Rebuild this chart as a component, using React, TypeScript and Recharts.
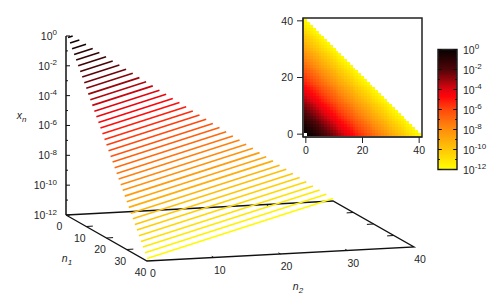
import React from "react";
import { ScatterChart, Scatter, XAxis, YAxis, ReferenceArea, ReferenceLine } from "recharts";

// log10 of x_n read for n1 + n2 = 1 .. 40
const logValues = [
  -0.02, -0.32, -0.62, -0.93, -1.23, -1.53, -1.84, -2.14, -2.44, -2.74,
  -3.05, -3.35, -3.65, -3.96, -4.26, -4.56, -4.86, -5.17, -5.47, -5.77,
  -6.07, -6.38, -6.68, -6.98, -7.29, -7.59, -7.89, -8.19, -8.5, -8.8,
  -9.1, -9.41, -9.71, -10.01, -10.31, -10.62, -10.92, -11.22, -11.53, -11.83,
];
const zMajorTicks = [0, -2, -4, -6, -8, -10, -12];
const zMinorTicks = [-1, -3, -5, -7, -9, -11];
const nTicks = [0, 10, 20, 30, 40];
const insetTicks = [0, 20, 40];
const colorStops: [number, number[]][] = [
  [0, [6, 1, 1]],
  [-2, [80, 5, 8]],
  [-3, [150, 5, 12]],
  [-4, [225, 5, 15]],
  [-4.7, [255, 5, 10]],
  [-6, [255, 72, 12]],
  [-8, [255, 142, 12]],
  [-10, [255, 198, 6]],
  [-12, [255, 255, 0]],
];

const FONT = "'Liberation Sans', Arial, sans-serif";
const INK = "#262626";

function colorOf(z: number) {
  for (let i = 1; i < colorStops.length; i++) {
    const [z0, c0] = colorStops[i - 1];
    const [z1, c1] = colorStops[i];
    if (z >= z1) {
      const t = (z0 - z) / (z0 - z1);
      const c = c0.map((v, j) => Math.round(v + (c1[j] - v) * t));
      return `rgb(${c[0]},${c[1]},${c[2]})`;
    }
  }
  return "rgb(255,255,0)";
}

// 3D view of (n1, n2, log x) on to the page
function project(n1: number, n2: number, z: number) {
  return {
    x: 66 + n1 * 2.025 + n2 * 6.675,
    y: 215 + n1 * 1.15 - n2 * 0.35 - (z + 12) * 14.92,
  };
}
const FLOOR = -12;

const stripes = logValues.map((z, i) => {
  const k = i + 1;
  return { color: colorOf(z), points: [project(k, 0, z), project(0, k, z)] };
});
const floorEdge = [project(0, 0, FLOOR), project(0, 40, FLOOR), project(40, 40, FLOOR), project(40, 0, FLOOR), project(0, 0, FLOOR)];
const zAxisLine = [project(0, 0, FLOOR), project(0, 0, 0)];

const tickSegments: { x: number; y: number }[][] = [];
const addTick = (a: { x: number; y: number }, dx: number, dy: number) =>
  tickSegments.push([a, { x: a.x + dx, y: a.y + dy }]);
zMajorTicks.forEach((z) => addTick(project(0, 0, z), 4, 0));
zMinorTicks.forEach((z) => addTick(project(0, 0, z), 2, 0));
[10, 20, 30].forEach((n) => {
  addTick(project(n, 0, FLOOR), 6.6, -0.4);
  addTick(project(n, 40, FLOOR), -6.6, 0.4);
  addTick(project(40, n, FLOOR), -2, -1.2);
  addTick(project(0, n, FLOOR), 2, 1.2);
});

type Lbl = { x: number; y: number; text: string; sup?: string; sub?: string; anchor?: string; italic?: boolean };
const labels: Lbl[] = [
  ...zMajorTicks.map((z) => {
    const p = project(0, 0, z);
    return { x: 57, y: p.y, text: "10", sup: String(z), anchor: "end" };
  }),
  ...nTicks.map((n) => {
    const p = project(n, 0, FLOOR);
    return { x: p.x - 6.5, y: p.y + 11, text: String(n), anchor: "middle" };
  }),
  ...nTicks.map((n) => {
    const p = project(40, n, FLOOR);
    return { x: p.x + 6, y: p.y + 12, text: String(n), anchor: "middle" };
  }),
  { x: 67, y: 258, text: "n", sub: "1", anchor: "middle", italic: true },
  { x: 298, y: 285.5, text: "n", sub: "2", anchor: "middle", italic: true },
  { x: 21.5, y: 115, text: "x", sub: "n", anchor: "middle", italic: true },
];

const cells: { n1: number; n2: number; z: number }[] = [];
logValues.forEach((z, i) => {
  const k = i + 1;
  for (let n1 = 0; n1 <= k; n1++) cells.push({ n1, n2: k - n1, z });
});

const Sup = ({ x, y, text, sup, anchor }: any) => (
  <text x={x} y={y + 4} textAnchor={anchor} fontFamily={FONT} fontSize={10.5} fill={INK}>
    <tspan>{text}</tspan>
    <tspan dy={-4.5} fontSize={8}>{sup}</tspan>
  </text>
);

const LabelShape = (props: any) => {
  const { cx, cy, payload: p } = props;
  if (p.sup) return <Sup x={cx} y={cy} text={p.text} sup={p.sup} anchor={p.anchor} />;
  return (
    <text x={cx} y={cy + 4} textAnchor={p.anchor} fontFamily={FONT} fontSize={10.5} fill={INK} fontStyle={p.italic ? "italic" : "normal"}>
      <tspan>{p.text}</tspan>
      {p.sub ? <tspan dy={3} fontSize={8}>{p.sub}</tspan> : null}
    </text>
  );
};
const NoPoint = () => <g />;
const CellShape = (props: any) => {
  const { cx, cy, payload } = props;
  return <rect x={cx - 1.45} y={cy - 1.45} width={2.9} height={2.9} fill={colorOf(payload.z)} shapeRendering="crispEdges" />;
};
const BarTick = (props: any) => (
  <Sup x={props.x} y={props.y} text="10" sup={String(props.payload.value)} anchor="start" />
);

const axisText = { fontFamily: FONT, fontSize: 10.5, fill: INK };
const box = (left: number, top: number): React.CSSProperties => ({ position: "absolute", left, top });

export default function App() {
  return (
    <div style={{ position: "absolute", left: 0, top: 0, width: 499, height: 294, overflow: "hidden", background: "#fff" }}>
      <div style={box(0, 0)}>
        <ScatterChart width={499} height={294} margin={{ top: 0, right: 0, bottom: 0, left: 0 }}>
          <XAxis type="number" dataKey="x" domain={[0, 499]} hide allowDataOverflow />
          <YAxis type="number" dataKey="y" domain={[0, 294]} reversed hide allowDataOverflow />
          <Scatter data={floorEdge} line={{ stroke: "#111", strokeWidth: 1.3 }} shape={NoPoint} isAnimationActive={false} />
          <Scatter data={zAxisLine} line={{ stroke: "#111", strokeWidth: 1.5 }} shape={NoPoint} isAnimationActive={false} />
          {tickSegments.map((seg, i) => (
            <Scatter key={"t" + i} data={seg} line={{ stroke: "#111", strokeWidth: 1 }} shape={NoPoint} isAnimationActive={false} />
          ))}
          {stripes.map((s, i) => (
            <Scatter key={"s" + i} data={s.points} line={{ stroke: s.color, strokeWidth: 1.6 }} shape={NoPoint} isAnimationActive={false} />
          ))}
          <Scatter data={labels} shape={LabelShape} isAnimationActive={false} />
        </ScatterChart>
      </div>

      <div style={box(270, 8)}>
        <ScatterChart width={180} height={155} margin={{ top: 10, right: 28, bottom: 0, left: 0 }}>
          <XAxis type="number" dataKey="n1" domain={[-1, 41]} ticks={insetTicks} height={26} tick={axisText} tickSize={6} tickMargin={4} stroke="#222" allowDataOverflow />
          <YAxis type="number" dataKey="n2" domain={[-1, 41]} ticks={insetTicks} width={33} tick={axisText} tickSize={6} tickMargin={4} stroke="#222" allowDataOverflow />
          <Scatter data={cells} shape={CellShape} isAnimationActive={false} />
          <ReferenceArea x1={-1} x2={41} y1={-1} y2={41} fill="none" stroke="#222" strokeWidth={1.5} fillOpacity={0} />
        </ScatterChart>
      </div>

      <div style={box(430, 40)}>
        <ScatterChart width={69} height={140} margin={{ top: 9.5, right: 0, bottom: 10.5, left: 8 }}>
          <defs>
            <linearGradient id="cbGrad" x1="0" y1="0" x2="0" y2="1">
              {colorStops.map(([z, c]) => (
                <stop key={z} offset={-z / 12} stopColor={`rgb(${c[0]},${c[1]},${c[2]})`} />
              ))}
            </linearGradient>
          </defs>
          <XAxis type="number" dataKey="x" domain={[0, 1]} hide allowDataOverflow />
          <YAxis type="number" dataKey="z" orientation="right" domain={[-12, 0]} ticks={zMajorTicks} interval={0} width={42} axisLine={false} tickLine={false} tickSize={0} tickMargin={6} tick={<BarTick />} allowDataOverflow />
          <ReferenceArea x1={0} x2={1} y1={-12} y2={0} fill="url(#cbGrad)" fillOpacity={1} stroke="none" />
          {zMajorTicks.map((z) => (
            <ReferenceLine key={"a" + z} segment={[{ x: 0, y: z }, { x: 0.2, y: z }]} stroke="#111" strokeWidth={1} />
          ))}
          {zMajorTicks.map((z) => (
            <ReferenceLine key={"b" + z} segment={[{ x: 0.8, y: z }, { x: 1, y: z }]} stroke="#111" strokeWidth={1} />
          ))}
          {zMinorTicks.map((z) => (
            <ReferenceLine key={"c" + z} segment={[{ x: 0, y: z }, { x: 0.1, y: z }]} stroke="#111" strokeWidth={1} />
          ))}
          {zMinorTicks.map((z) => (
            <ReferenceLine key={"d" + z} segment={[{ x: 0.9, y: z }, { x: 1, y: z }]} stroke="#111" strokeWidth={1} />
          ))}
          <ReferenceArea x1={0} x2={1} y1={-12} y2={0} fill="none" fillOpacity={0} stroke="#222" strokeWidth={1.5} />
        </ScatterChart>
      </div>
    </div>
  );
}
